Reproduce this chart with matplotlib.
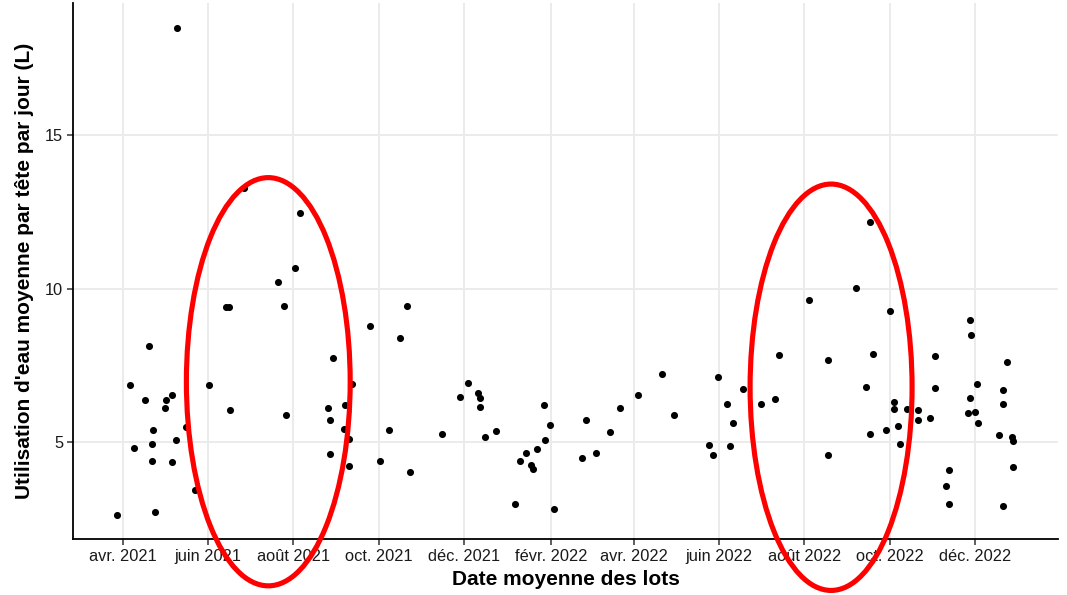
import matplotlib
matplotlib.use("Agg")
import matplotlib.pyplot as plt
import matplotlib.dates as mdates
from matplotlib.patches import Ellipse
import numpy as np
import pandas as pd

plt.rcParams["font.family"] = ["Liberation Sans", "DejaVu Sans"]

# Average batch date and mean daily water use per head (L)
batch_dates = [
    "2021-03-28", "2021-04-06", "2021-04-09", "2021-04-20", "2021-04-17", "2021-04-23",
    "2021-04-22", "2021-04-22", "2021-04-24", "2021-05-02", "2021-05-01", "2021-05-06",
    "2021-05-09", "2021-05-06", "2021-05-10", "2021-05-16", "2021-05-23", "2021-06-02",
    "2021-06-14", "2021-06-16", "2021-06-17", "2021-06-27", "2021-07-21", "2021-07-25",
    "2021-07-27", "2021-08-02", "2021-08-06", "2021-08-29", "2021-08-26", "2021-08-27",
    "2021-08-27", "2021-09-12", "2021-09-07", "2021-09-06", "2021-09-10", "2021-09-10",
    "2021-09-25", "2021-10-08", "2021-10-02", "2021-10-21", "2021-10-16", "2021-10-23",
    "2021-11-15", "2021-11-28", "2021-12-04", "2021-12-11", "2021-12-12", "2021-12-12",
    "2021-12-16", "2021-12-24", "2022-01-06", "2022-01-10", "2022-01-14", "2022-01-18",
    "2022-01-19", "2022-01-22", "2022-01-27", "2022-01-28", "2022-01-31", "2022-02-03",
    "2022-02-23", "2022-02-26", "2022-03-05", "2022-03-15", "2022-03-22", "2022-04-04",
    "2022-04-21", "2022-04-30", "2022-05-25", "2022-05-28", "2022-05-31", "2022-06-07",
    "2022-06-11", "2022-06-09", "2022-06-18", "2022-07-01", "2022-07-11", "2022-07-14",
    "2022-08-04", "2022-08-18", "2022-08-18", "2022-09-07", "2022-09-17", "2022-09-19",
    "2022-09-14", "2022-09-17", "2022-10-01", "2022-10-04", "2022-10-04", "2022-09-28",
    "2022-10-07", "2022-10-08", "2022-10-13", "2022-10-21", "2022-10-21", "2022-10-30",
    "2022-11-02", "2022-11-02", "2022-11-10", "2022-11-12", "2022-11-12", "2022-11-27",
    "2022-11-28", "2022-12-02", "2022-11-27", "2022-11-26", "2022-12-01", "2022-12-03",
    "2022-12-18", "2022-12-21", "2022-12-21", "2022-12-21", "2022-12-24", "2022-12-27",
    "2022-12-28", "2022-12-28",
]
water_use = [
    2.62, 6.86, 4.80, 8.14, 6.39, 5.39,
    4.94, 4.38, 2.72, 6.37, 6.12, 6.53,
    5.07, 4.35, 18.48, 5.50, 3.43, 6.86,
    9.39, 9.39, 6.05, 13.27, 10.21, 9.44,
    5.87, 10.68, 12.46, 7.73, 6.12, 5.71,
    4.60, 6.89, 6.22, 5.43, 5.11, 4.22,
    8.80, 5.40, 4.39, 9.44, 8.41, 4.03,
    5.27, 6.48, 6.92, 6.59, 6.43, 6.14,
    5.16, 5.37, 2.98, 4.38, 4.66, 4.25,
    4.14, 4.77, 6.22, 5.07, 5.55, 2.83,
    4.50, 5.73, 4.66, 5.32, 6.10, 6.53,
    7.21, 5.90, 4.91, 4.57, 7.12, 6.25,
    5.62, 4.87, 6.73, 6.23, 6.40, 7.84,
    9.62, 7.67, 4.57, 10.02, 12.18, 7.87,
    6.79, 5.27, 9.27, 6.31, 6.09, 5.40,
    5.52, 4.94, 6.07, 6.04, 5.71, 5.79,
    7.80, 6.78, 3.57, 4.11, 3.00, 8.98,
    8.48, 6.90, 6.43, 5.96, 5.99, 5.63,
    5.25, 2.91, 6.71, 6.25, 7.60, 5.17,
    5.03, 4.19,
]

tick_dates = ["2021-04-01", "2021-06-01", "2021-08-01", "2021-10-01", "2021-12-01",
              "2022-02-01", "2022-04-01", "2022-06-01", "2022-08-01", "2022-10-01",
              "2022-12-01"]
tick_labels = ["avr. 2021", "juin 2021", "août 2021", "oct. 2021", "déc. 2021",
               "févr. 2022", "avr. 2022", "juin 2022", "août 2022", "oct. 2022",
               "déc. 2022"]
y_ticks = [5, 10, 15]

# Summer periods highlighted with ellipses: (centre date, centre value, width in days, height)
highlights = [("2021-07-14", 6.97, 117, 13.3), ("2022-08-20", 6.79, 115.7, 13.24)]

fig = plt.figure(figsize=(10.67, 5.95), dpi=100)
ax = fig.add_axes([0.0684, 0.0933, 0.9916 - 0.0684, 0.995 - 0.0933])

x = mdates.date2num(pd.to_datetime(batch_dates))
ax.scatter(x, water_use, s=26, color="black", linewidths=0, zorder=3)

x0 = mdates.date2num(pd.Timestamp("2021-04-01"))
ax.set_xlim(x0 - 35.5, x0 + 668.1)
ax.set_ylim(1.83, 19.31)

ax.set_xticks(mdates.date2num(pd.to_datetime(tick_dates)))
ax.set_xticklabels(tick_labels)
ax.set_yticks(y_ticks)
ax.set_yticklabels([str(v) for v in y_ticks])

ax.grid(True, color="#EBEBEB", linewidth=1.4, zorder=0)
ax.set_axisbelow(True)
for side in ("top", "right"):
    ax.spines[side].set_visible(False)
for side in ("left", "bottom"):
    ax.spines[side].set_linewidth(1.3)
    ax.spines[side].set_color("black")
ax.tick_params(axis="both", length=4, width=1.1, color="#333333",
               labelsize=11.8, labelcolor="#1a1a1a", pad=3)

ax.set_xlabel("Date moyenne des lots", fontsize=15, fontweight="bold", labelpad=4)
ax.set_ylabel("Utilisation d'eau moyenne par tête par jour (L)", fontsize=15,
              fontweight="bold", labelpad=8)

for cdate, cy, wdays, h in highlights:
    cx = mdates.date2num(pd.Timestamp(cdate))
    e = Ellipse((cx, cy), wdays, h, fill=False, edgecolor="#FF0000",
                linewidth=3.7, clip_on=False, zorder=4)
    ax.add_patch(e)

fig.savefig("out.png", dpi=100)
